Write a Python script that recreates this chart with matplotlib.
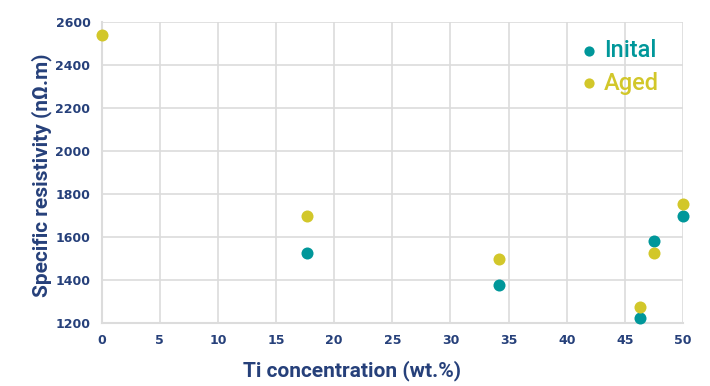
import matplotlib
matplotlib.use("Agg")
import matplotlib.pyplot as plt

# dati
ti_initial = [17.7, 34.2, 46.3, 47.5, 50.0]
rho_initial = [1525, 1375, 1222, 1583, 1698]
ti_aged = [0.0, 17.7, 34.2, 46.3, 47.5, 50.0]
rho_aged = [2538, 1700, 1500, 1273, 1526, 1752]

x_ticks = [0, 5, 10, 15, 20, 25, 30, 35, 40, 45, 50]
y_ticks = [1200, 1400, 1600, 1800, 2000, 2200, 2400, 2600]

teal = "#00979a"
olive = "#d2c72a"
navy = "#26407a"
grid_c = "#dcdcdc"

fig, ax = plt.subplots(figsize=(7.1, 3.86), dpi=100)
fig.subplots_adjust(left=0.143, right=0.962, top=0.943, bottom=0.163)

ax.scatter(ti_initial, rho_initial, s=75, color=teal, zorder=3, linewidths=0, label="Inital", clip_on=False)
ax.scatter(ti_aged, rho_aged, s=75, color=olive, zorder=3, linewidths=0, label="Aged", clip_on=False)

ax.set_xlim(0, 50)
ax.set_ylim(1200, 2600)
ax.set_xticks(x_ticks)
ax.set_yticks(y_ticks)
ax.grid(True, color=grid_c, linewidth=1.2)
ax.set_axisbelow(True)

for side in ["top", "right"]:
    ax.spines[side].set_visible(False)
for side in ["left", "bottom"]:
    ax.spines[side].set_color(grid_c)
    ax.spines[side].set_linewidth(1.5)

ax.tick_params(length=0, pad=8, labelcolor=navy)
for lab in ax.get_xticklabels() + ax.get_yticklabels():
    lab.set_fontweight("bold")
    lab.set_fontsize(9)

lab_font = dict(family=["Roboto", "DejaVu Sans"], fontweight="bold", fontsize=15, color=navy)
ax.set_xlabel("Ti concentration (wt.%)", **lab_font)
ax.set_ylabel("Specific resistivity (nΩ.m)", **lab_font)
ax.xaxis.set_label_coords(0.43, -0.125)
ax.yaxis.set_label_coords(-0.086, 0.49)

leg = ax.legend(loc="upper right", bbox_to_anchor=(0.995, 1.015), frameon=False,
                handlelength=0.6, handletextpad=0.35, markerscale=0.85, labelspacing=0.42,
                prop={"family": "Roboto", "size": 17, "weight": "medium"})
for txt, c in zip(leg.get_texts(), [teal, olive]):
    txt.set_color(c)

fig.savefig("out.png", dpi=100)
